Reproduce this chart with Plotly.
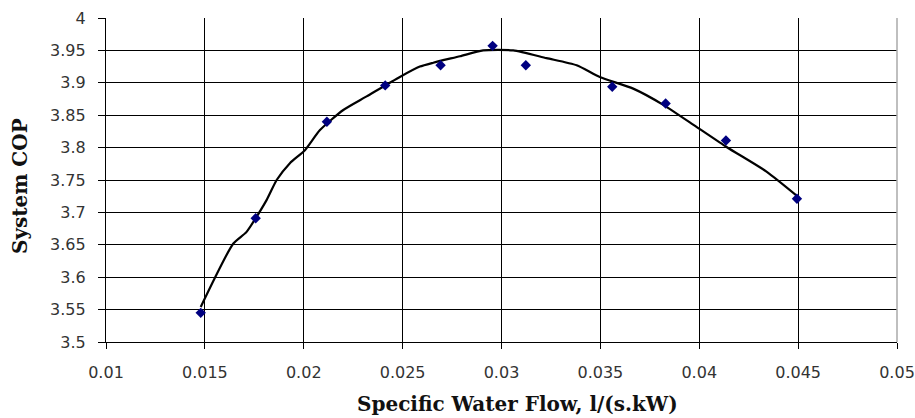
import plotly.graph_objects as go

# Measured data points
flow = [0.01479, 0.01757, 0.02117, 0.02412, 0.02692, 0.02955, 0.03123, 0.0356, 0.0383, 0.04135, 0.04494]
cop = [3.545, 3.691, 3.840, 3.896, 3.927, 3.957, 3.927, 3.894, 3.868, 3.811, 3.721]

# Trend curve
curve_x = [0.01479, 0.01644, 0.01711, 0.01812, 0.01863, 0.0193, 0.02006, 0.02082, 0.022, 0.02318,
           0.02486, 0.02587, 0.02655, 0.0279, 0.02907, 0.03059, 0.03228, 0.0338, 0.03497, 0.03666,
           0.03818, 0.03986, 0.04138, 0.0434, 0.045]
curve_y = [3.554, 3.652, 3.670, 3.719, 3.750, 3.776, 3.796, 3.827, 3.858, 3.879,
           3.909, 3.925, 3.931, 3.941, 3.950, 3.950, 3.938, 3.927, 3.909, 3.891,
           3.866, 3.832, 3.801, 3.763, 3.724]

x_ticks = [0.01, 0.015, 0.02, 0.025, 0.03, 0.035, 0.04, 0.045, 0.05]
x_tick_labels = ["0.01", "0.015", "0.02", "0.025", "0.03", "0.035", "0.04", "0.045", "0.05"]
y_ticks = [3.5, 3.55, 3.6, 3.65, 3.7, 3.75, 3.8, 3.85, 3.9, 3.95, 4]
y_tick_labels = ["3.5", "3.55", "3.6", "3.65", "3.7", "3.75", "3.8", "3.85", "3.9", "3.95", "4"]

fig = go.Figure()
fig.add_trace(go.Scatter(x=curve_x, y=curve_y, mode="lines",
                         line=dict(color="black", width=2.2, shape="spline", smoothing=0.6),
                         showlegend=False, hoverinfo="skip"))
fig.add_trace(go.Scatter(x=flow, y=cop, mode="markers",
                         marker=dict(symbol="diamond", size=8, color="#000080"),
                         showlegend=False))

tick_font = dict(family="DejaVu Sans, Verdana, sans-serif", size=16, color="#333")
title_font = dict(family="DejaVu Serif, serif", size=20, color="#111")

fig.update_layout(
    width=915, height=418,
    margin=dict(l=106, r=18, t=18, b=76),
    paper_bgcolor="white", plot_bgcolor="white",
    xaxis=dict(range=[0.01, 0.05], tickvals=x_ticks, ticktext=x_tick_labels,
               showgrid=True, gridcolor="black", gridwidth=1.2,
               showline=True, linecolor="black", linewidth=1.2,
               ticks="outside", ticklen=6, tickcolor="black", automargin=False,
               tickfont=tick_font, zeroline=False, ticklabelstandoff=10),
    yaxis=dict(range=[3.5, 4.0], tickvals=y_ticks, ticktext=y_tick_labels,
               showgrid=True, gridcolor="black", gridwidth=1.2,
               showline=True, linecolor="black", linewidth=1.2,
               ticks="outside", ticklen=7, tickcolor="black", automargin=False,
               tickfont=tick_font, zeroline=False, ticklabelstandoff=9),
    shapes=[dict(type="line", xref="paper", yref="paper", x0=1, x1=1, y0=0, y1=1,
                 line=dict(color="#aaaaaa", width=1.5))],
    annotations=[
        dict(text="<b>Specific Water Flow, l/(s.kW)</b>", xref="paper", yref="paper",
             x=0.52, y=-0.19, xanchor="center", yanchor="middle", showarrow=False,
             font=title_font),
        dict(text="<b>System COP</b>", xref="paper", yref="paper",
             x=-0.108, y=0.48, xanchor="center", yanchor="middle", showarrow=False,
             textangle=-90, font=title_font),
    ],
)

fig.write_html("out.html")
